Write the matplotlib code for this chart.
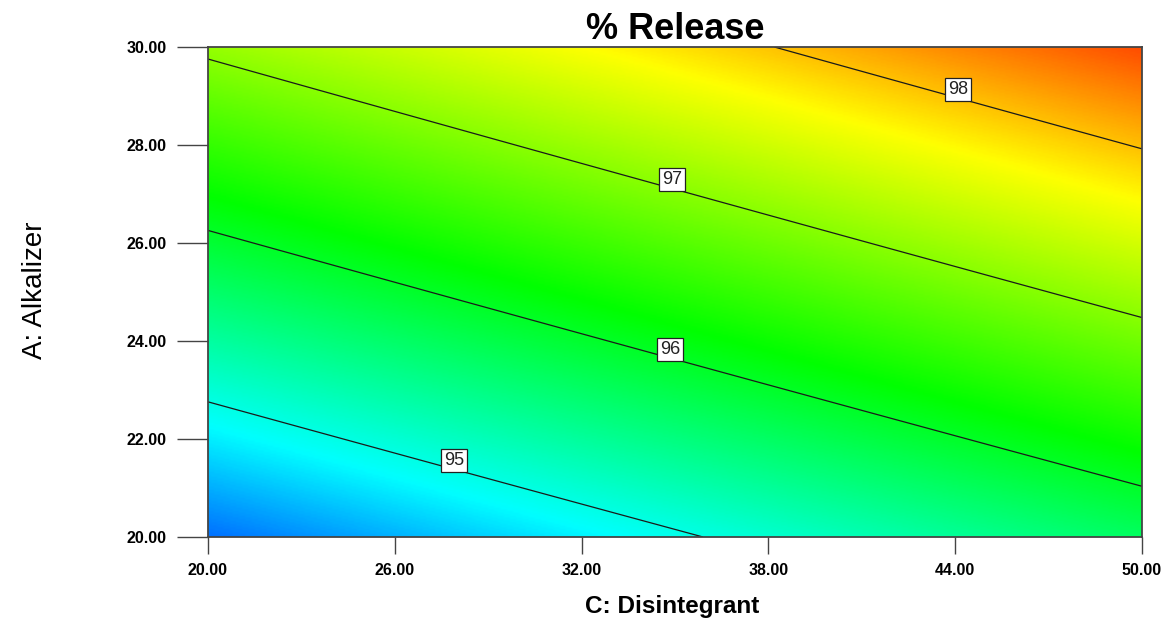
import numpy as np
import matplotlib.pyplot as plt
from matplotlib.colors import LinearSegmentedColormap

# contour lines: end points (C, A) of each level line
levels = [95, 96, 97, 98]
line_c = [[20.0, 35.8], [20.0, 50.0], [20.0, 50.0], [38.6, 50.0]]
line_a = [[22.8, 20.0], [26.2, 21.1], [29.75, 24.4], [30.0, 27.9]]
# rough spots of the contour labels
label_pos = [(28.0, 21.6), (34.9, 23.8), (35.0, 27.3), (44.2, 29.2)]

c_ticks = [20, 26, 32, 38, 44, 50]
a_ticks = [20, 22, 24, 26, 28, 30]

# colour ramp of the response (blue -> cyan -> green -> yellow -> red)
ramp_values = [93.7, 94.85, 96.2, 97.7, 99.0]
ramp_colors = ['#0000ff', '#00ffff', '#00ff00', '#ffff00', '#ff0000']


def main():
    plt.rcParams['font.family'] = ['Liberation Sans', 'DejaVu Sans']

    # fit the response surface through the read contour points
    cc, aa, rr = [], [], []
    for lev, cs, as_ in zip(levels, line_c, line_a):
        cc += cs
        aa += as_
        rr += [lev] * len(cs)
    cc, aa, rr = np.array(cc), np.array(aa), np.array(rr, dtype=float)
    X = np.column_stack([np.ones_like(cc), cc, aa, cc * aa])
    coef, *_ = np.linalg.lstsq(X, rr, rcond=None)

    C, A = np.meshgrid(np.linspace(20, 50, 300), np.linspace(20, 30, 300))
    Z = coef[0] + coef[1] * C + coef[2] * A + coef[3] * C * A

    lo, hi = ramp_values[0], ramp_values[-1]
    stops = [(v - lo) / (hi - lo) for v in ramp_values]
    cmap = LinearSegmentedColormap.from_list('de', list(zip(stops, ramp_colors)))

    fig = plt.figure(figsize=(11.65, 6.42), dpi=100)
    ax = fig.add_axes([208 / 1165, 1 - 537 / 642, (1142 - 208) / 1165, (537 - 47) / 642])

    ax.imshow(Z, extent=[20, 50, 20, 30], origin='lower', aspect='auto',
              cmap=cmap, vmin=lo, vmax=hi, interpolation='bilinear')
    cs = ax.contour(C, A, Z, levels=levels, colors='#1a1a1a', linewidths=0.9)
    labels = ax.clabel(cs, fmt='%d', inline=False, manual=label_pos, fontsize=13, colors='#222222')
    for t in labels:
        t.set_rotation(0)
        x, y = t.get_position()
        t.set_position((x, y + 0.18))
        t.set_bbox(dict(facecolor='white', edgecolor='#222222', linewidth=0.9, pad=2.2))

    ax.set_xlim(20, 50)
    ax.set_ylim(20, 30)
    ax.set_xticks(c_ticks)
    ax.set_yticks(a_ticks)
    ax.set_xticklabels([f'{v:.2f}' for v in c_ticks], fontweight='bold', fontsize=11.5)
    ax.set_yticklabels([f'{v:.2f}' for v in a_ticks], fontweight='bold', fontsize=11.5)
    ax.tick_params(axis='x', length=12, width=1, color='#444444', pad=7)
    ax.tick_params(axis='y', length=22, width=1, color='#444444', pad=8)
    for sp in ax.spines.values():
        sp.set_color('#444444')
        sp.set_linewidth(1.3)

    ax.set_title('% Release', fontsize=26, fontweight='bold', pad=3)
    fig.text(35 / 1165, 1 - 290 / 642, 'A: Alkalizer', rotation=90, fontsize=20,
             ha='center', va='center')
    fig.text(672 / 1165, 1 - 607 / 642, 'C: Disintegrant', fontsize=17.5, fontweight='bold',
             ha='center', va='center')

    fig.savefig('out.png', dpi=100)


if __name__ == '__main__':
    main()
